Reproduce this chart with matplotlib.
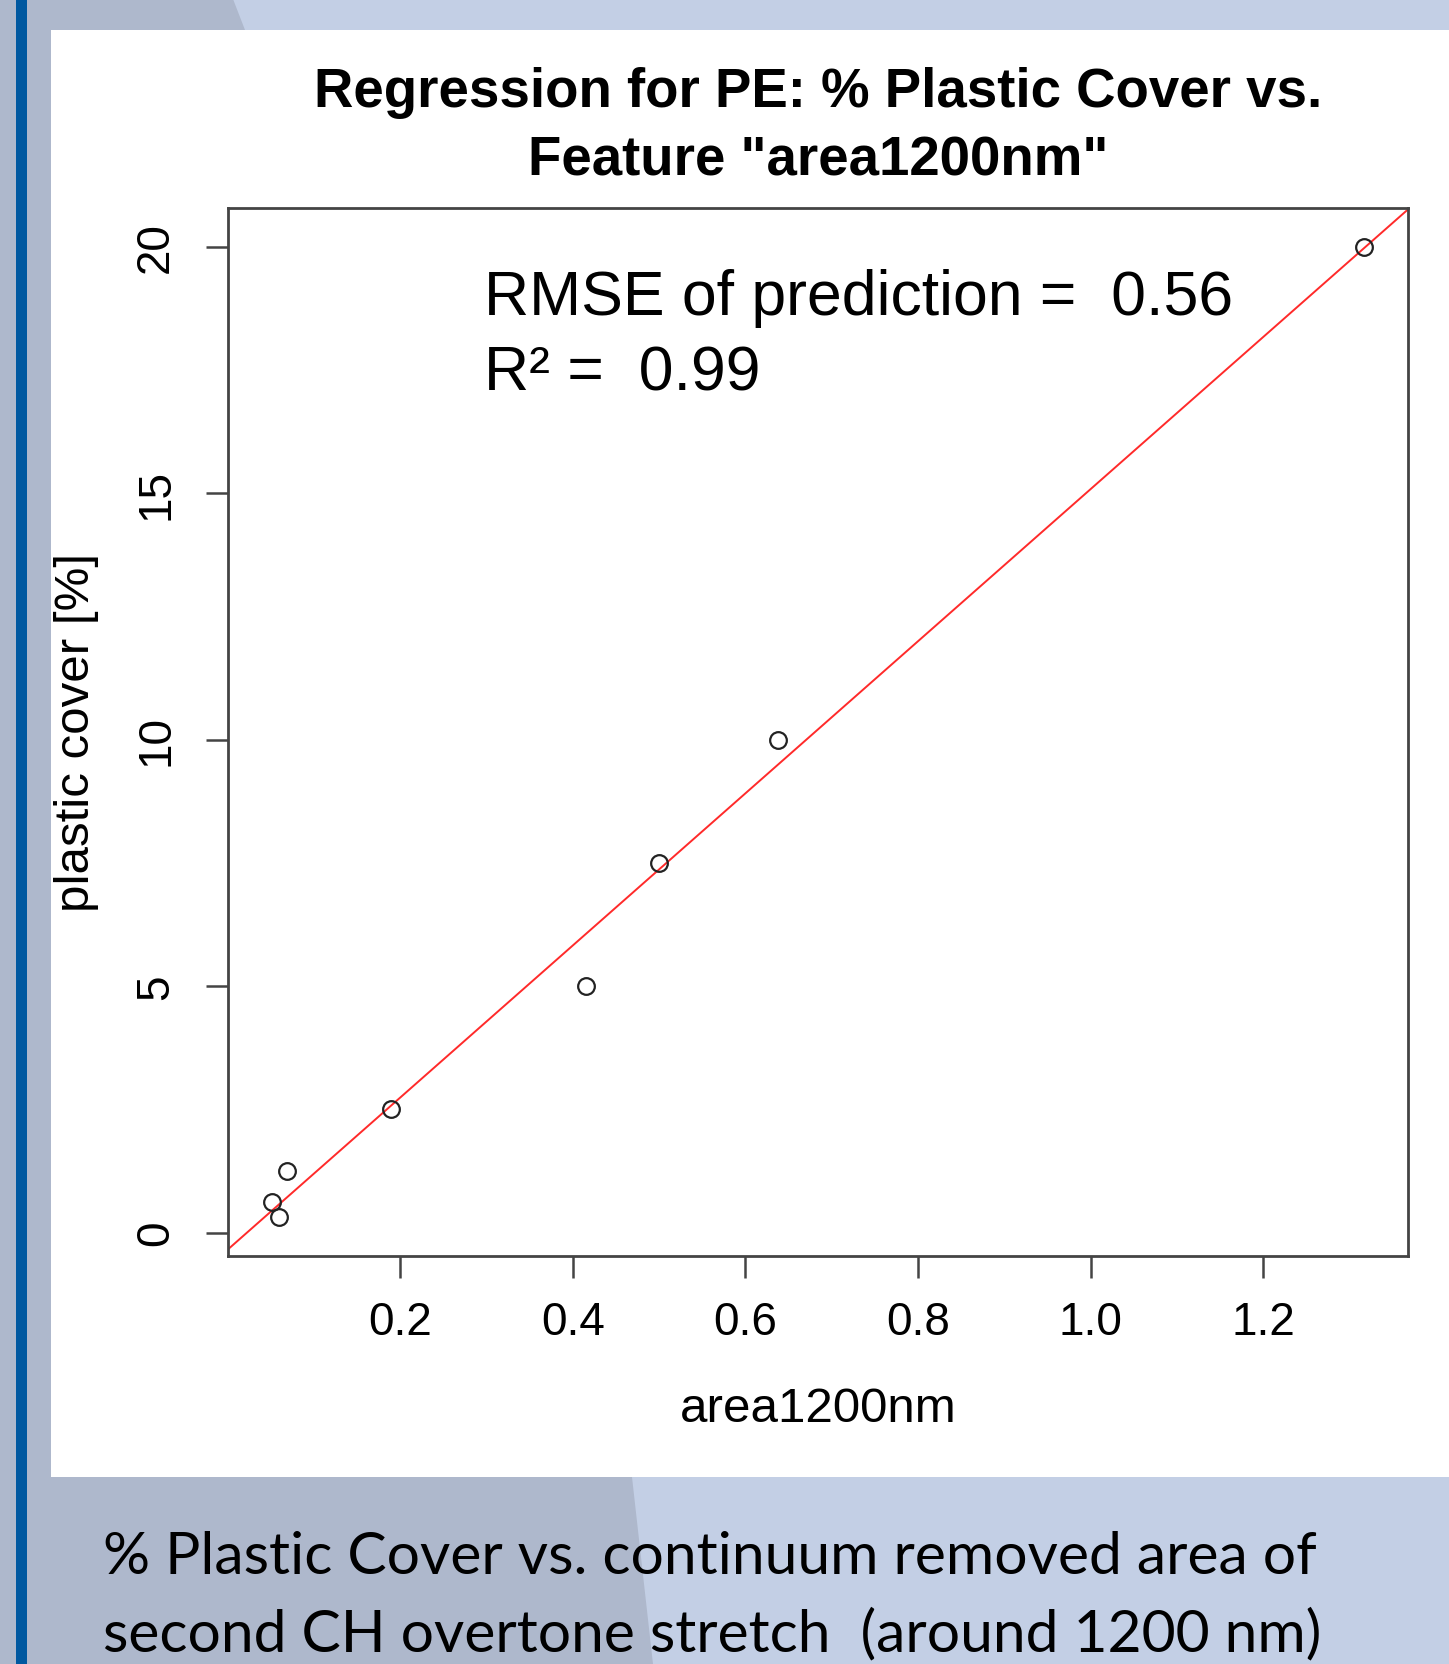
import matplotlib
matplotlib.use("Agg")
import matplotlib.pyplot as plt
from matplotlib.patches import Rectangle, Polygon
import numpy as np

# data
area1200nm = np.array([0.0513, 0.0603, 0.0686, 0.189, 0.415, 0.4995, 0.638, 1.317])
plastic_cover = np.array([0.625, 0.3125, 1.25, 2.5, 5.0, 7.5, 10.0, 20.0])
x_ticks = [0.2, 0.4, 0.6, 0.8, 1.0, 1.2]
x_tick_labels = ["0.2", "0.4", "0.6", "0.8", "1.0", "1.2"]
y_ticks = [0, 5, 10, 15, 20]
rmse = 0.56
r2 = 0.99

W, H = 1449, 1665
fig = plt.figure(figsize=(W / 100, H / 100), dpi=100)
fig.patch.set_facecolor("#aeb8cc")

# slide background: lighter diagonal areas, blue bar and white panel
def px(x, y):
    return (x / W, 1 - y / H)

bg = dict(transform=fig.transFigure, edgecolor="none", zorder=-1)
fig.patches.append(Polygon([px(233, 0), px(W, 0), px(W, 31), px(245, 31)],
                           closed=True, facecolor="#c3cfe5", **bg))
fig.patches.append(Polygon([px(632, 1478), px(W, 1478), px(W, H), px(653, H)],
                           closed=True, facecolor="#c3cfe5", **bg))
fig.patches.append(Rectangle(px(16, H), 11 / W, 1, facecolor="#0058a0", **bg))
fig.patches.append(Rectangle(px(51, 1478), (W - 51) / W, (1478 - 31) / H,
                             facecolor="white", **bg))

ax = fig.add_axes([228 / W, 1 - 1257 / H, (1408 - 228) / W, (1257 - 209) / H])
ax.set_zorder(2)
ax.set_facecolor("white")

# regression line
slope, intercept = np.polyfit(area1200nm, plastic_cover, 1)
ax.axline((0, intercept), slope=slope, color="#ff2a2a", lw=1.4, zorder=2)

ax.plot(area1200nm, plastic_cover, "o", mfc="none", mec="#222222",
        ms=12, mew=1.6, zorder=3)

# R-style 4% axis extension
xr = area1200nm.max() - area1200nm.min()
yr = plastic_cover.max() - plastic_cover.min()
ax.set_xlim(area1200nm.min() - 0.04 * xr, area1200nm.max() + 0.04 * xr)
ax.set_ylim(plastic_cover.min() - 0.04 * yr, plastic_cover.max() + 0.04 * yr)

font = "Liberation Sans"
ax.set_xticks(x_ticks)
ax.set_xticklabels(x_tick_labels, fontfamily=font, fontsize=33)
ax.set_yticks(y_ticks)
ax.set_yticklabels([str(v) for v in y_ticks], fontfamily=font, fontsize=33,
                   rotation=90, va="center")
ax.tick_params(axis="x", length=16, width=1.8, color="#444444", pad=16)
ax.tick_params(axis="y", length=16, width=1.8, color="#444444", pad=20)
for s in ax.spines.values():
    s.set_color("#444444")
    s.set_linewidth(2.0)

ax.set_xlabel("area1200nm", fontfamily=font, fontsize=35.5, labelpad=30)
ax.set_ylabel("plastic cover [%]", fontfamily=font, fontsize=35.5, labelpad=25)

ax.text(0.297, 18.63, "RMSE of prediction =  %.2f" % rmse,
        fontfamily=font, fontsize=45, va="baseline")
ax.text(0.297, 17.11, "R\u00b2 =  %.2f" % r2,
        fontfamily=font, fontsize=45, va="baseline")

fig.text((228 + 1408) / 2 / W, 1 - 127 / H,
         'Regression for PE: % Plastic Cover vs.\nFeature "area1200nm"',
         fontfamily=font, fontweight="bold", fontsize=39.3, ha="center",
         va="center", linespacing=1.42)

# slide caption
cap = dict(fontfamily="Lato", fontsize=42.3, va="baseline", color="black")
fig.text(103 / W, 1 - 1574 / H,
         "% Plastic Cover vs. continuum removed area of", **cap)
fig.text(103 / W, 1 - 1651 / H,
         "second CH overtone stretch  (around 1200 nm)", **cap)

fig.savefig("out.png", dpi=100)
